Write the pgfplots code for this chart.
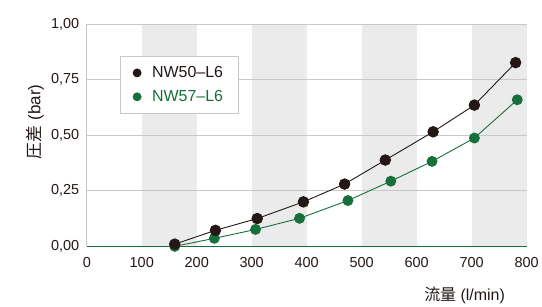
\documentclass[border=0pt]{standalone}
\usepackage{pgfplots}
\pgfplotsset{compat=1.18}
\usepackage{fontspec}
\setmainfont{Liberation Sans}
\newfontfamily\cjk{Noto Sans CJK JP}
\definecolor{nwblack}{HTML}{231815}
\definecolor{nwgreen}{HTML}{17703C}
\definecolor{band}{HTML}{EBEBEB}
\definecolor{gridc}{HTML}{C8C8C8}
\begin{document}
\begin{tikzpicture}
\pgfplotsset{set layers}
\begin{axis}[
  scale only axis, width=441pt, height=223pt,
  xmin=0, xmax=800, ymin=0, ymax=1,
  axis lines*=left,
  axis line style={draw=gridc, line width=0.8pt},
  xtick={0,100,...,800},
  ytick={0,0.25,0.5,0.75,1},
  ymajorgrids, grid style={gridc, line width=0.8pt},
  major tick length=0pt,
  tick label style={font=\fontsize{14.5}{16}\selectfont, text=nwblack},
  /pgf/number format/assume math mode=true,
  yticklabel style={/pgf/number format/.cd, fixed, fixed zerofill, precision=2, use comma},
  xticklabel style={/pgf/number format/.cd, fixed, precision=0},
  xticklabel shift=8pt, yticklabel shift=4pt,
  clip=false,
  xlabel={{\cjk 流量} (l/min)},
  xlabel style={at={(axis description cs:0.859,-0.22)}, anchor=center, font=\fontsize{16}{18}\selectfont, text=nwblack},
  ylabel={{\cjk 圧差} (bar)},
  ylabel style={at={(axis description cs:-0.118,0.56)}, anchor=center, font=\fontsize{17}{19}\selectfont, text=nwblack},
  legend style={at={(axis cs:60,0.858)}, anchor=north west, draw=gridc, line width=0.8pt,
    font=\fontsize{16}{18}\selectfont, inner xsep=13pt, inner ysep=8.7pt, row sep=7.3pt},
  legend cell align=left,
]
\begin{pgfonlayer}{axis background}
\fill[band] (axis cs:100,0) rectangle (axis cs:200,1);
\fill[band] (axis cs:300,0) rectangle (axis cs:400,1);
\fill[band] (axis cs:500,0) rectangle (axis cs:600,1);
\fill[band] (axis cs:700,0) rectangle (axis cs:800,1);
\end{pgfonlayer}
\addlegendimage{only marks, mark=*, mark size=4pt, color=nwblack}
\addlegendentry{\hspace{9pt}\textcolor{nwblack}{NW50–L6}\hspace{10pt}}
\addlegendimage{only marks, mark=*, mark size=4pt, color=nwgreen}
\addlegendentry{\hspace{9pt}\textcolor{nwgreen}{NW57–L6}\hspace{10pt}}
\addplot[nwgreen, line width=1.6pt, forget plot] coordinates {(0,0) (800,0)};
\addplot[nwgreen, line width=0.9pt, mark=*, mark size=5pt, mark options={fill=nwgreen, draw=nwgreen}, forget plot]
coordinates {(160,0) (232,0.036) (307,0.076) (387,0.126) (475,0.206) (553,0.293) (628,0.382) (705,0.487) (783,0.659)};
\addplot[nwblack, line width=0.9pt, mark=*, mark size=5.3pt, mark options={fill=nwblack, draw=nwblack}, forget plot]
coordinates {(160,0.01) (234,0.072) (310,0.125) (394,0.20) (469,0.28) (543,0.388) (630,0.515) (705,0.635) (780,0.826)};
\end{axis}
\path[use as bounding box] (-87pt,-56pt) rectangle (455pt,247pt);
\end{tikzpicture}
\end{document}
